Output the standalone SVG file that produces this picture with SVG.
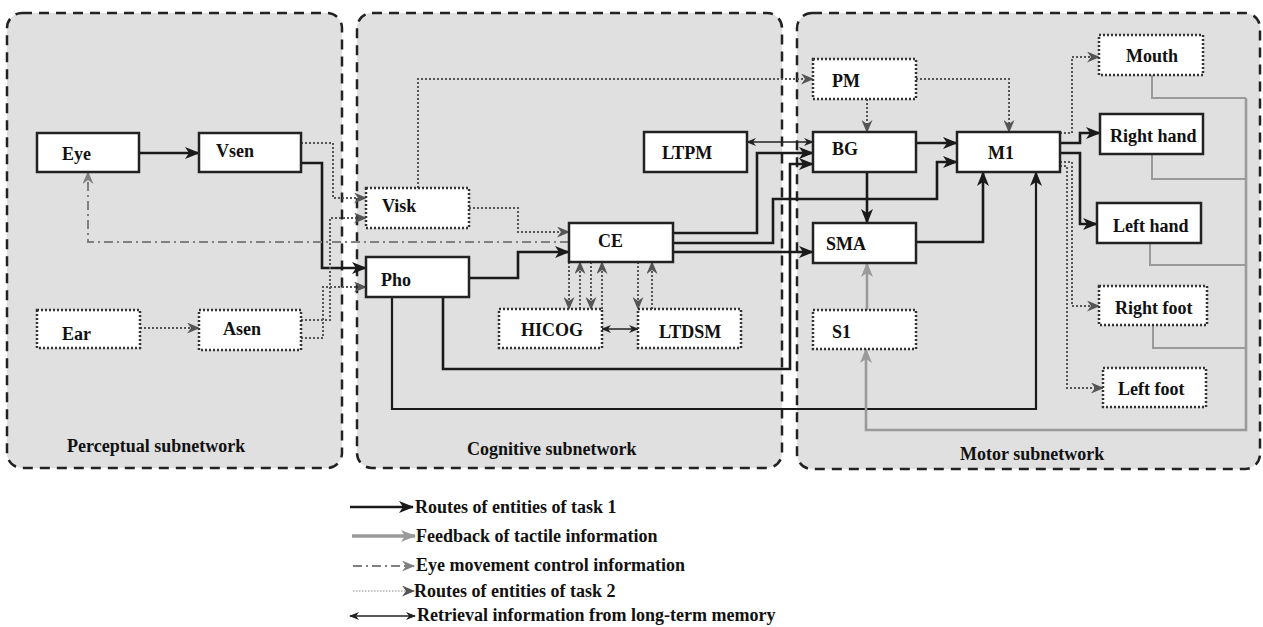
<svg xmlns="http://www.w3.org/2000/svg" width="1263" height="627" viewBox="0 0 1263 627">
<style>
text{font-family:"Liberation Serif","Times New Roman",serif;font-weight:bold;font-size:18px;fill:#111}
.panel{fill:#e0e0e0;stroke:#222;stroke-width:2.5;stroke-dasharray:10 7}
.box{fill:#fff;stroke:#222;stroke-width:2.5}
.dbox{fill:#fff;stroke:#333;stroke-width:2.5;stroke-dasharray:2 2}
.t1{fill:none;stroke:#1a1a1a;stroke-width:2.6}
.fb{fill:none;stroke:#9a9a9a;stroke-width:2.6}
.fb2{fill:none;stroke:#9a9a9a;stroke-width:2}
.t2{fill:none;stroke:#555;stroke-width:2;stroke-dasharray:2 2}
.em{fill:none;stroke:#808080;stroke-width:2;stroke-dasharray:9 4 2 4}
.lt{fill:none;stroke:#222;stroke-width:1.3}
</style>
<defs>
<marker id="ab" markerUnits="userSpaceOnUse" markerWidth="15" markerHeight="12" refX="14" refY="6" orient="auto"><path d="M0,0 L15,6 L0,12 L4,6 z" fill="#1a1a1a"/></marker>
<marker id="ag" markerUnits="userSpaceOnUse" markerWidth="15" markerHeight="12" refX="14" refY="6" orient="auto"><path d="M0,0 L15,6 L0,12 L4,6 z" fill="#9a9a9a"/></marker>
<marker id="ad" markerUnits="userSpaceOnUse" markerWidth="13" markerHeight="11" refX="12" refY="5.5" orient="auto"><path d="M0,0 L13,5.5 L0,11 L4,5.5 z" fill="#555"/></marker>
<marker id="ae" markerUnits="userSpaceOnUse" markerWidth="13" markerHeight="11" refX="12" refY="5.5" orient="auto"><path d="M0,0 L13,5.5 L0,11 L4,5.5 z" fill="#808080"/></marker>
<marker id="at" markerUnits="userSpaceOnUse" markerWidth="10" markerHeight="8" refX="9" refY="4" orient="auto-start-reverse"><path d="M0,0 L10,4 L0,8 L3,4 z" fill="#222"/></marker>
</defs>
<rect width="1263" height="627" fill="#fff"/>
<g id="panels">
<rect class="panel" x="7" y="13" width="335" height="455" rx="15"/>
<rect class="panel" x="357" y="13" width="425" height="455" rx="15"/>
<rect class="panel" x="797" y="13" width="463" height="456" rx="15"/>
<text x="67" y="452">Perceptual subnetwork</text>
<text x="467" y="455">Cognitive subnetwork</text>
<text x="960" y="460">Motor subnetwork</text>
</g>
<g id="connectors">
<path class="t1" marker-end="url(#ab)" d="M139,153 H199"/>
<path class="t1" marker-end="url(#ab)" d="M301,163 H322 V268 H366"/>
<path class="t1" marker-end="url(#ab)" d="M469,278 H518 V252 H569"/>
<path class="t1" marker-end="url(#ab)" d="M443,297 V369 H790 V164 H813"/>
<path class="t1" style="stroke-width:2.2" marker-end="url(#ab)" d="M392,297 V409 H1036 V172"/>
<path class="t1" marker-end="url(#ab)" d="M673,233 H757 V153 H813"/>
<path class="t1" marker-end="url(#ab)" d="M673,243 H773 V199 H937 V162 H957"/>
<path class="t1" marker-end="url(#ab)" d="M673,252 H813"/>
<path class="t1" marker-end="url(#ab)" d="M916,143 H957"/>
<path class="t1" marker-end="url(#ab)" d="M867,172 V223"/>
<path class="t1" marker-end="url(#ab)" d="M916,242 H983 V172"/>
<path class="t1" marker-end="url(#ab)" d="M1060,143 H1080 V133 H1100"/>
<path class="t1" marker-end="url(#ab)" d="M1060,153 H1080 V224 H1097"/>
<path class="fb" marker-end="url(#ag)" d="M867,310 V263"/>
<path class="fb" marker-end="url(#ag)" d="M1246,98 V430 H866 V349"/>
<path class="fb2" d="M1152,75 V98 H1246"/>
<path class="fb2" d="M1152,154 V179 H1246"/>
<path class="fb2" d="M1150,243 V265 H1246"/>
<path class="fb2" d="M1153,325 V348 H1246"/>
<path class="t2" marker-end="url(#ad)" d="M140,328 H199"/>
<path class="t2" marker-end="url(#ad)" d="M301,143 H333 V198 H366"/>
<path class="t2" marker-end="url(#ad)" d="M301,320 H330 V218 H366"/>
<path class="t2" marker-end="url(#ad)" d="M301,338 H323 V287 H366"/>
<path class="t2" marker-end="url(#ad)" d="M418,188 V79 H813"/>
<path class="t2" marker-end="url(#ad)" d="M469,208 H518 V232 H569"/>
<path class="t2" marker-end="url(#ad)" d="M569,262 V309"/>
<path class="t2" marker-end="url(#ad)" d="M580,309 V262"/>
<path class="t2" marker-end="url(#ad)" d="M591,262 V309"/>
<path class="t2" marker-end="url(#ad)" d="M602,309 V262"/>
<path class="t2" marker-end="url(#ad)" d="M638,262 V309"/>
<path class="t2" marker-end="url(#ad)" d="M652,309 V262"/>
<path class="t2" marker-end="url(#ad)" d="M867,99 V132"/>
<path class="t2" marker-end="url(#ad)" d="M916,79 H1009 V132"/>
<path class="t2" marker-end="url(#ad)" d="M1060,133 H1072 V57 H1099"/>
<path class="t2" marker-end="url(#ad)" d="M1060,162 H1072 V306 H1099"/>
<path class="t2" marker-end="url(#ad)" d="M1060,166 H1067 V388 H1103"/>
<path class="em" marker-end="url(#ae)" d="M569,242 H88 V172"/>
<path class="lt" marker-start="url(#at)" marker-end="url(#at)" d="M747,142 H813"/>
<path class="lt" marker-start="url(#at)" marker-end="url(#at)" d="M602,329 H638"/>
</g>
<g id="Eye"><rect class="box" x="37" y="133" width="102" height="39"/><text x="62" y="160">Eye</text></g>
<g id="Vsen"><rect class="box" x="199" y="133" width="102" height="39"/><text x="216" y="157">Vsen</text></g>
<g id="Ear"><rect class="dbox" x="37" y="310" width="103" height="38"/><text x="62" y="340">Ear</text></g>
<g id="Asen"><rect class="dbox" x="199" y="310" width="102" height="40"/><text x="223" y="335">Asen</text></g>
<g id="Visk"><rect class="dbox" x="366" y="188" width="103" height="40"/><text x="382" y="212">Visk</text></g>
<g id="Pho"><rect class="box" x="366" y="257" width="103" height="40"/><text x="381" y="286">Pho</text></g>
<g id="CE"><rect class="box" x="569" y="223" width="104" height="39"/><text x="598" y="247">CE</text></g>
<g id="HICOG"><rect class="dbox" x="499" y="309" width="103" height="39"/><text x="521" y="336">HICOG</text></g>
<g id="LTDSM"><rect class="dbox" x="638" y="309" width="103" height="39"/><text x="659" y="338">LTDSM</text></g>
<g id="LTPM"><rect class="box" x="644" y="132" width="103" height="40"/><text x="662" y="159">LTPM</text></g>
<g id="PM"><rect class="dbox" x="813" y="59" width="103" height="40"/><text x="832" y="87">PM</text></g>
<g id="BG"><rect class="box" x="813" y="132" width="103" height="40"/><text x="832" y="155">BG</text></g>
<g id="M1"><rect class="box" x="957" y="132" width="103" height="40"/><text x="988" y="159">M1</text></g>
<g id="SMA"><rect class="box" x="813" y="223" width="103" height="40"/><text x="826" y="250">SMA</text></g>
<g id="S1"><rect class="dbox" x="813" y="310" width="103" height="39"/><text x="832" y="338">S1</text></g>
<g id="Mouth"><rect class="dbox" x="1099" y="35" width="104" height="40"/><text x="1126" y="62">Mouth</text></g>
<g id="RightHand"><rect class="box" x="1100" y="114" width="103" height="40"/><text x="1110" y="142">Right hand</text></g>
<g id="LeftHand"><rect class="box" x="1097" y="203" width="104" height="40"/><text x="1113" y="232">Left hand</text></g>
<g id="RightFoot"><rect class="dbox" x="1099" y="286" width="108" height="39"/><text x="1115" y="314">Right foot</text></g>
<g id="LeftFoot"><rect class="dbox" x="1103" y="368" width="103" height="39"/><text x="1118" y="395">Left foot</text></g>
<g id="legend">
<path class="t1" marker-end="url(#ab)" d="M350,507 H413"/>
<path class="fb" style="stroke-width:3.5" marker-end="url(#ag)" d="M352,536 H415"/>
<path class="em" marker-end="url(#ae)" d="M353,566 H414"/>
<path fill="none" stroke="#888" stroke-width="1.2" stroke-dasharray="1.5 1.5" marker-end="url(#ad)" d="M353,591 H414"/>
<path class="lt" marker-start="url(#at)" marker-end="url(#at)" d="M350,616 H415"/>
<text x="415" y="513">Routes of entities of task 1</text>
<text x="416" y="542">Feedback of tactile information</text>
<text x="416" y="571">Eye movement control information</text>
<text x="414" y="597">Routes of entities of task 2</text>
<text x="417" y="621">Retrieval information from long-term memory</text>
</g>
</svg>
